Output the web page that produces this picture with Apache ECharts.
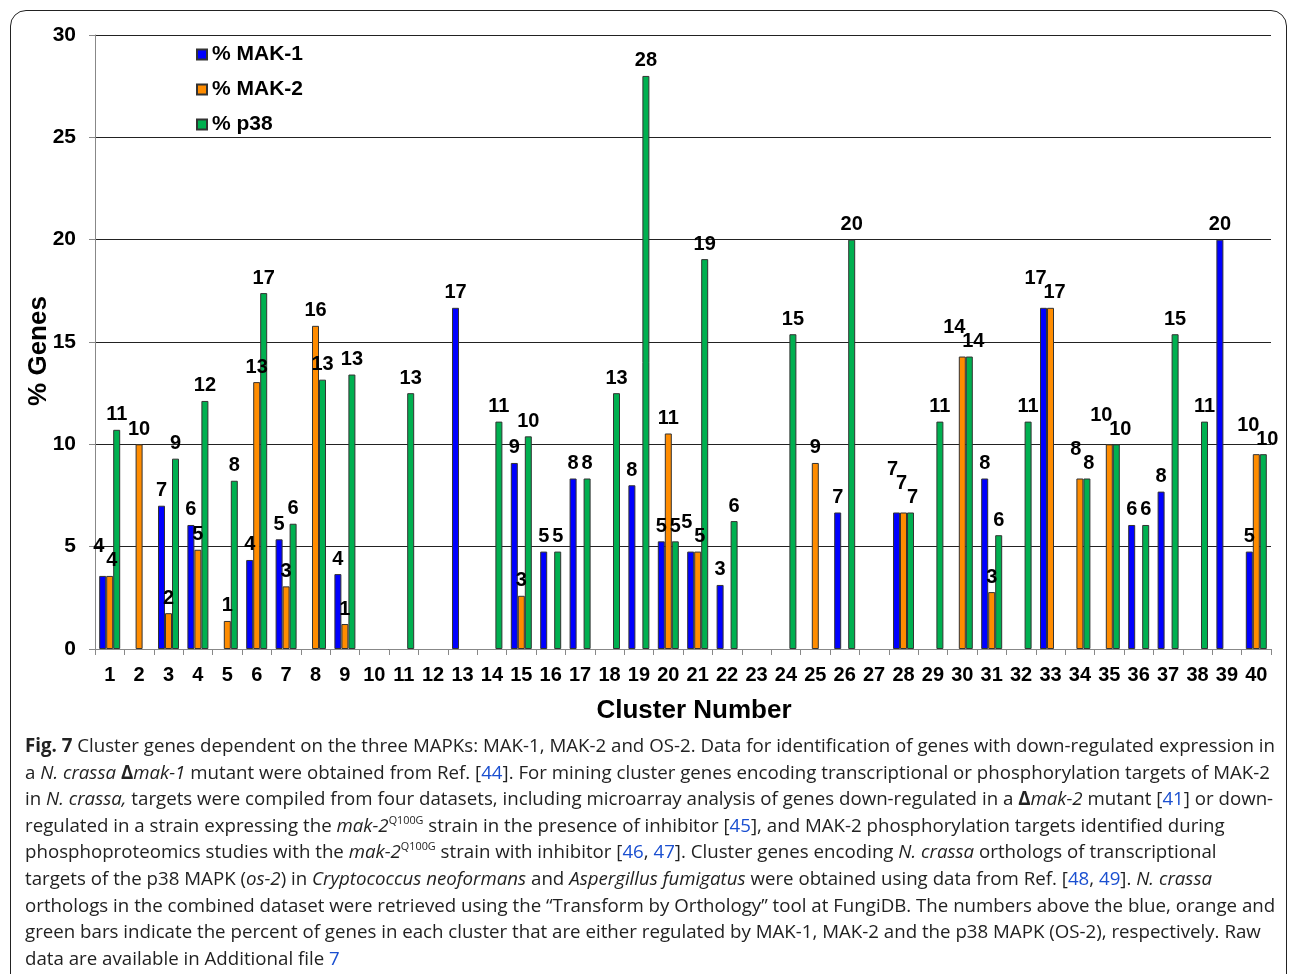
<!DOCTYPE html>
<html>
<head>
<meta charset="utf-8">
<title>Fig. 7 Cluster genes dependent on MAK-1, MAK-2 and OS-2</title>
<script src="https://cdn.jsdelivr.net/npm/echarts@6/dist/echarts.min.js"></script>
<style>
  html, body { margin: 0; padding: 0; background: #fff; }
  body { width: 1290px; height: 974px; position: relative; overflow: hidden; }
  #frame {
    position: absolute; left: 10px; top: 10px; width: 1277px; height: 1000px;
    border: 1.5px solid #222; border-radius: 16px; box-sizing: border-box;
  }
  #chart { position: absolute; left: 0; top: 0; width: 1290px; height: 974px; }
  #caption {
    position: absolute; left: 25px; top: 732px; width: 1252px;
    font-family: "Open Sans", "Noto Sans", sans-serif; font-size: 19px;
    color: #222;
  }
  #caption .ln { white-space: nowrap; height: 26.6px; line-height: 26.6px; transform-origin: 0 50%; }
  #caption .ln span.w { display: inline-block; }
  #caption a { color: #1a4fd0; text-decoration: none; }
  #caption sup { font-size: 11px; line-height: 0; vertical-align: 8px; }
</style>
</head>
<body>
<div id="frame"></div>
<div id="chart"></div>
<div id="caption">
  <div class="ln"><span class="w"><b>Fig. 7</b> Cluster genes dependent on the three MAPKs: MAK-1, MAK-2 and OS-2. Data for identification of genes with down-regulated expression in</span></div>
  <div class="ln"><span class="w">a <i>N. crassa</i> <b>Δ</b><i>mak-1</i> mutant were obtained from Ref. [<a>44</a>]. For mining cluster genes encoding transcriptional or phosphorylation targets of MAK-2</span></div>
  <div class="ln"><span class="w">in <i>N. crassa,</i> targets were compiled from four datasets, including microarray analysis of genes down-regulated in a <b>Δ</b><i>mak-2</i> mutant [<a>41</a>] or down-</span></div>
  <div class="ln"><span class="w">regulated in a strain expressing the <i>mak-2</i><sup>Q100G</sup> strain in the presence of inhibitor [<a>45</a>], and MAK-2 phosphorylation targets identified during</span></div>
  <div class="ln"><span class="w">phosphoproteomics studies with the <i>mak-2</i><sup>Q100G</sup> strain with inhibitor [<a>46</a>, <a>47</a>]. Cluster genes encoding <i>N. crassa</i> orthologs of transcriptional</span></div>
  <div class="ln"><span class="w">targets of the p38 MAPK (<i>os-2</i>) in <i>Cryptococcus neoformans</i> and <i>Aspergillus fumigatus</i> were obtained using data from Ref. [<a>48</a>, <a>49</a>]. <i>N. crassa</i></span></div>
  <div class="ln"><span class="w">orthologs in the combined dataset were retrieved using the “Transform by Orthology” tool at FungiDB. The numbers above the blue, orange and</span></div>
  <div class="ln"><span class="w">green bars indicate the percent of genes in each cluster that are either regulated by MAK-1, MAK-2 and the p38 MAPK (OS-2), respectively. Raw</span></div>
  <div class="ln"><span class="w">data are available in Additional file <a>7</a></span></div>
</div>
<script>
// Cluster numbers 1..40
const clusters = ['1','2','3','4','5','6','7','8','9','10','11','12','13','14','15','16','17','18','19','20',
                  '21','22','23','24','25','26','27','28','29','30','31','32','33','34','35','36','37','38','39','40'];

// Percent of cluster genes regulated by each MAPK (null = none)
const mak1 = [3.57, null, 7.0, 6.06, null, 4.35, 5.36, null, 3.66, null,
              null, null, 16.67, null, 9.09, 4.76, 8.33, null, 8.0, 5.26,
              4.76, 3.13, null, null, null, 6.67, null, 6.67, null, null,
              8.33, null, 16.67, null, null, 6.06, 7.69, null, 20.0, 4.76];
const mak2 = [3.57, 10.0, 1.75, 4.85, 1.37, 13.04, 3.06, 15.79, 1.22, null,
              null, null, null, null, 2.6, null, null, null, null, 10.53,
              4.76, null, null, null, 9.09, null, null, 6.67, null, 14.29,
              2.78, null, 16.67, 8.33, 10.0, null, null, null, null, 9.52];
const p38  = [10.71, null, 9.3, 12.12, 8.22, 17.39, 6.12, 13.16, 13.41, null,
              12.5, null, null, 11.11, 10.39, 4.76, 8.33, 12.5, 28.0, 5.26,
              19.05, 6.25, null, 15.38, null, 20.0, null, 6.67, 11.11, 14.29,
              5.56, 11.11, null, 8.33, 10.0, 6.06, 15.38, 11.11, null, 9.52];

const yTicks = { min: 0, max: 30, interval: 5 };

const seriesDefs = [
  { name: '% MAK-1', values: mak1, color: '#0000ff' },
  { name: '% MAK-2', values: mak2, color: '#ff8c00' },
  { name: '% p38',   values: p38,  color: '#00b050' }
];

const FONT = '"Liberation Sans", Arial, Helvetica, sans-serif';

// Where neighbouring bars in a cluster have nearly equal heights, their value
// labels would sit on top of each other; lift the left one and nudge sideways.
const all = seriesDefs.map(s => s.values);
const lift = all.map(() => new Array(clusters.length).fill(0));
const partner = all.map(() => new Array(clusters.length).fill(false));
for (let c = 0; c < clusters.length; c++) {
  for (let s = all.length - 2; s >= 0; s--) {
    const a = all[s][c], b = all[s + 1][c];
    if (a != null && b != null && Math.abs(a - b) < 1.0) {
      lift[s][c] = lift[s + 1][c] + 1;
      partner[s + 1][c] = true;
    }
  }
}

const series = seriesDefs.map((def, s) => ({
  name: def.name,
  type: 'bar',
  barWidth: 7,
  barGap: '0%',
  itemStyle: { color: def.color, borderColor: '#333', borderWidth: 1 },
  label: {
    show: true,
    position: 'top',
    distance: 5,
    color: '#000',
    fontFamily: FONT,
    fontWeight: 'bold',
    fontSize: 20,
    formatter: p => Math.round(p.value)
  },
  data: def.values.map((v, c) => {
    if (v == null) return null;
    const digits = String(Math.round(v)).length;
    let dx = 0, dy = 0;
    if (lift[s][c] > 0) { dx -= digits * 4; dy -= 14 * lift[s][c]; }
    if (partner[s][c]) { dx += digits * 2; }
    return (dx || dy) ? { value: v, label: { offset: [dx, dy] } } : v;
  })
}));

const chart = echarts.init(document.getElementById('chart'), null, { renderer: 'canvas' });
chart.setOption({
  animation: false,
  backgroundColor: 'transparent',
  grid: { left: 95, right: 19, top: 35, bottom: 325, containLabel: false },
  legend: {
    data: seriesDefs.map(s => s.name),
    orient: 'vertical',
    left: 196,
    top: 44,
    padding: 0,
    icon: 'rect',
    itemWidth: 10,
    itemHeight: 10,
    itemGap: 14,
    selectedMode: false,
    textStyle: { color: '#000', fontFamily: FONT, fontWeight: 'bold', fontSize: 21, lineHeight: 21 }
  },
  xAxis: {
    type: 'category',
    data: clusters,
    boundaryGap: true,
    name: 'Cluster Number',
    nameLocation: 'middle',
    nameGap: 49,
    nameMoveOverlap: false,
    nameTextStyle: { color: '#000', fontFamily: FONT, fontWeight: 'bold', fontSize: 26, padding: [0, 0, 0, 22] },
    axisLine: { show: true, lineStyle: { color: '#888', width: 1 } },
    axisTick: { show: true, length: 6, interval: 0, lineStyle: { color: '#888' } },
    axisLabel: { interval: 0, margin: 16, color: '#000', fontFamily: FONT, fontWeight: 'bold', fontSize: 20 },
    splitLine: { show: false }
  },
  yAxis: {
    type: 'value',
    min: yTicks.min,
    max: yTicks.max,
    interval: yTicks.interval,
    name: '% Genes',
    nameLocation: 'middle',
    nameRotate: 90,
    nameGap: 43,
    nameMoveOverlap: false,
    nameTextStyle: { color: '#000', fontFamily: FONT, fontWeight: 'bold', fontSize: 26, padding: [0, 18, 0, 0] },
    axisLine: { show: true, lineStyle: { color: '#888', width: 1 } },
    axisTick: { show: true, length: 6, lineStyle: { color: '#888' } },
    axisLabel: { margin: 19, color: '#000', fontFamily: FONT, fontWeight: 'bold', fontSize: 21 },
    splitLine: { show: true, lineStyle: { color: '#222', width: 1 } }
  },
  series: series
});

// Fit the caption lines to the column width with a common horizontal scale
(function fitCaption() {
  const lines = Array.from(document.querySelectorAll('#caption .ln'));
  const first = lines[0].querySelector('.w');
  const k = 1250 / first.getBoundingClientRect().width;
  lines.forEach(l => { l.style.transform = 'scaleX(' + k + ')'; });
})();
</script>
</body>
</html>
